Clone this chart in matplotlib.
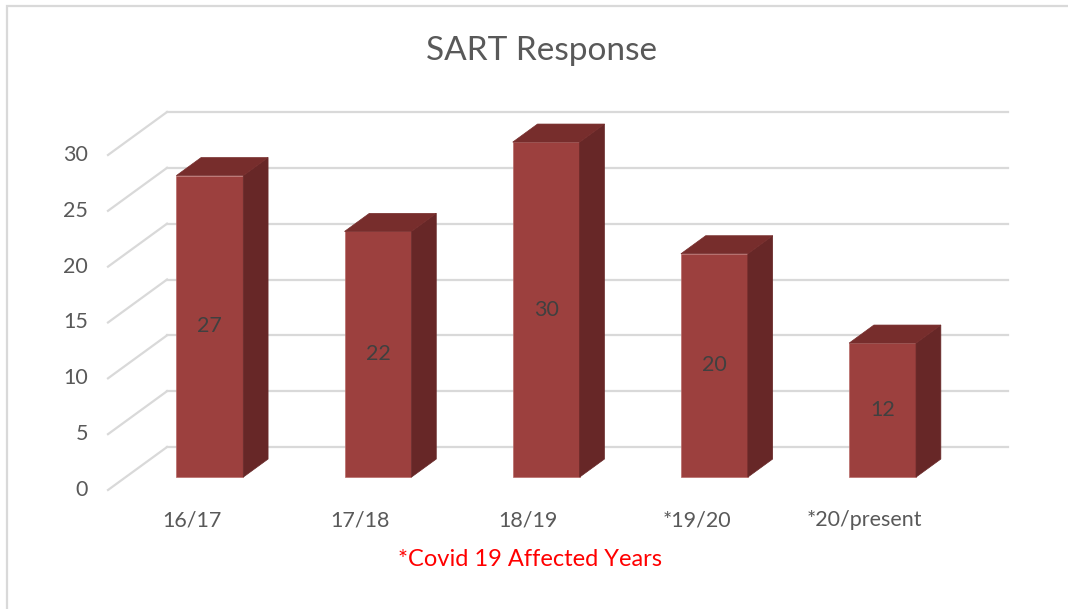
import matplotlib.pyplot as plt
from matplotlib.patches import Polygon, Rectangle

years = ['16/17', '17/18', '18/19', '*19/20', '*20/present']
responses = [27, 22, 30, 20, 12]
ticks = [0, 5, 10, 15, 20, 25, 30]

plt.rcParams['font.family'] = ['Lato', 'DejaVu Sans']

# depth of the fake 3d floor, in data units (x: categories, y: values)
DX, DY = 0.351, 3.85
F0, F1 = 0.3, 0.72   # front / back of bars as a fraction of the floor depth
W = 0.398            # bar width
grid_c = '#d9d9d9'

fig = plt.figure(figsize=(10.68, 6.09), dpi=100)
ax = fig.add_axes([108 / 1068, 119 / 609, 900 / 1068, 378 / 609])
ax.set_xlim(0, len(years) + DX)
ax.set_ylim(0, ticks[-1] + DY)
ax.axis('off')

n = len(years)
for v in ticks:
    ax.plot([DX, n + DX], [v + DY, v + DY], color=grid_c, lw=1.6, clip_on=False)
    ax.plot([0, DX], [v, v + DY], color=grid_c, lw=1.6, clip_on=False)
    ax.text(-0.12, v, str(v), ha='right', va='center', fontsize=15.5, color='#595959')

for i, (lab, val) in enumerate(zip(years, responses)):
    x0 = i + 0.5 - W / 2 + F0 * DX
    x1 = x0 + W
    y0 = F0 * DY
    ddx = (F1 - F0) * DX
    ddy = (F1 - F0) * DY
    front = Polygon([(x0, y0), (x1, y0), (x1, y0 + val), (x0, y0 + val)],
                    closed=True, fc='#9c403e', ec='#b86a68', lw=0.5, zorder=3)
    side = Polygon([(x1, y0), (x1 + ddx, y0 + ddy), (x1 + ddx, y0 + ddy + val), (x1, y0 + val)],
                   closed=True, fc='#672727', ec='#672727', lw=0.5, zorder=3)
    top = Polygon([(x0, y0 + val), (x1, y0 + val), (x1 + ddx, y0 + ddy + val), (x0 + ddx, y0 + ddy + val)],
                  closed=True, fc='#772d2c', ec='#772d2c', lw=0.5, zorder=3)
    for p in (front, side, top):
        ax.add_patch(p)
    ax.text((x0 + x1) / 2, y0 + val / 2, str(val), ha='center', va='center',
            fontsize=15.5, color='#404040', zorder=4)
    ax.text(i + 0.5, -2.7, lab, ha='center', va='center', fontsize=15.5, color='#595959')

fig.text(542 / 1068, 1 - 51 / 609, 'SART Response', ha='center', va='center',
         fontsize=24, color='#595959')
fig.text(530 / 1068, 1 - 559 / 609, '*Covid 19 Affected Years', ha='center', va='center',
         fontsize=17, color='#ff0000')

# chart frame (right and bottom edges fall outside the image)
fig.patches.append(Rectangle((7 / 1068, -0.1), 1.2, 1 - 6 / 609 + 0.1, transform=fig.transFigure,
                             fill=False, ec=grid_c, lw=1.6))

fig.savefig('out.png', dpi=100)
